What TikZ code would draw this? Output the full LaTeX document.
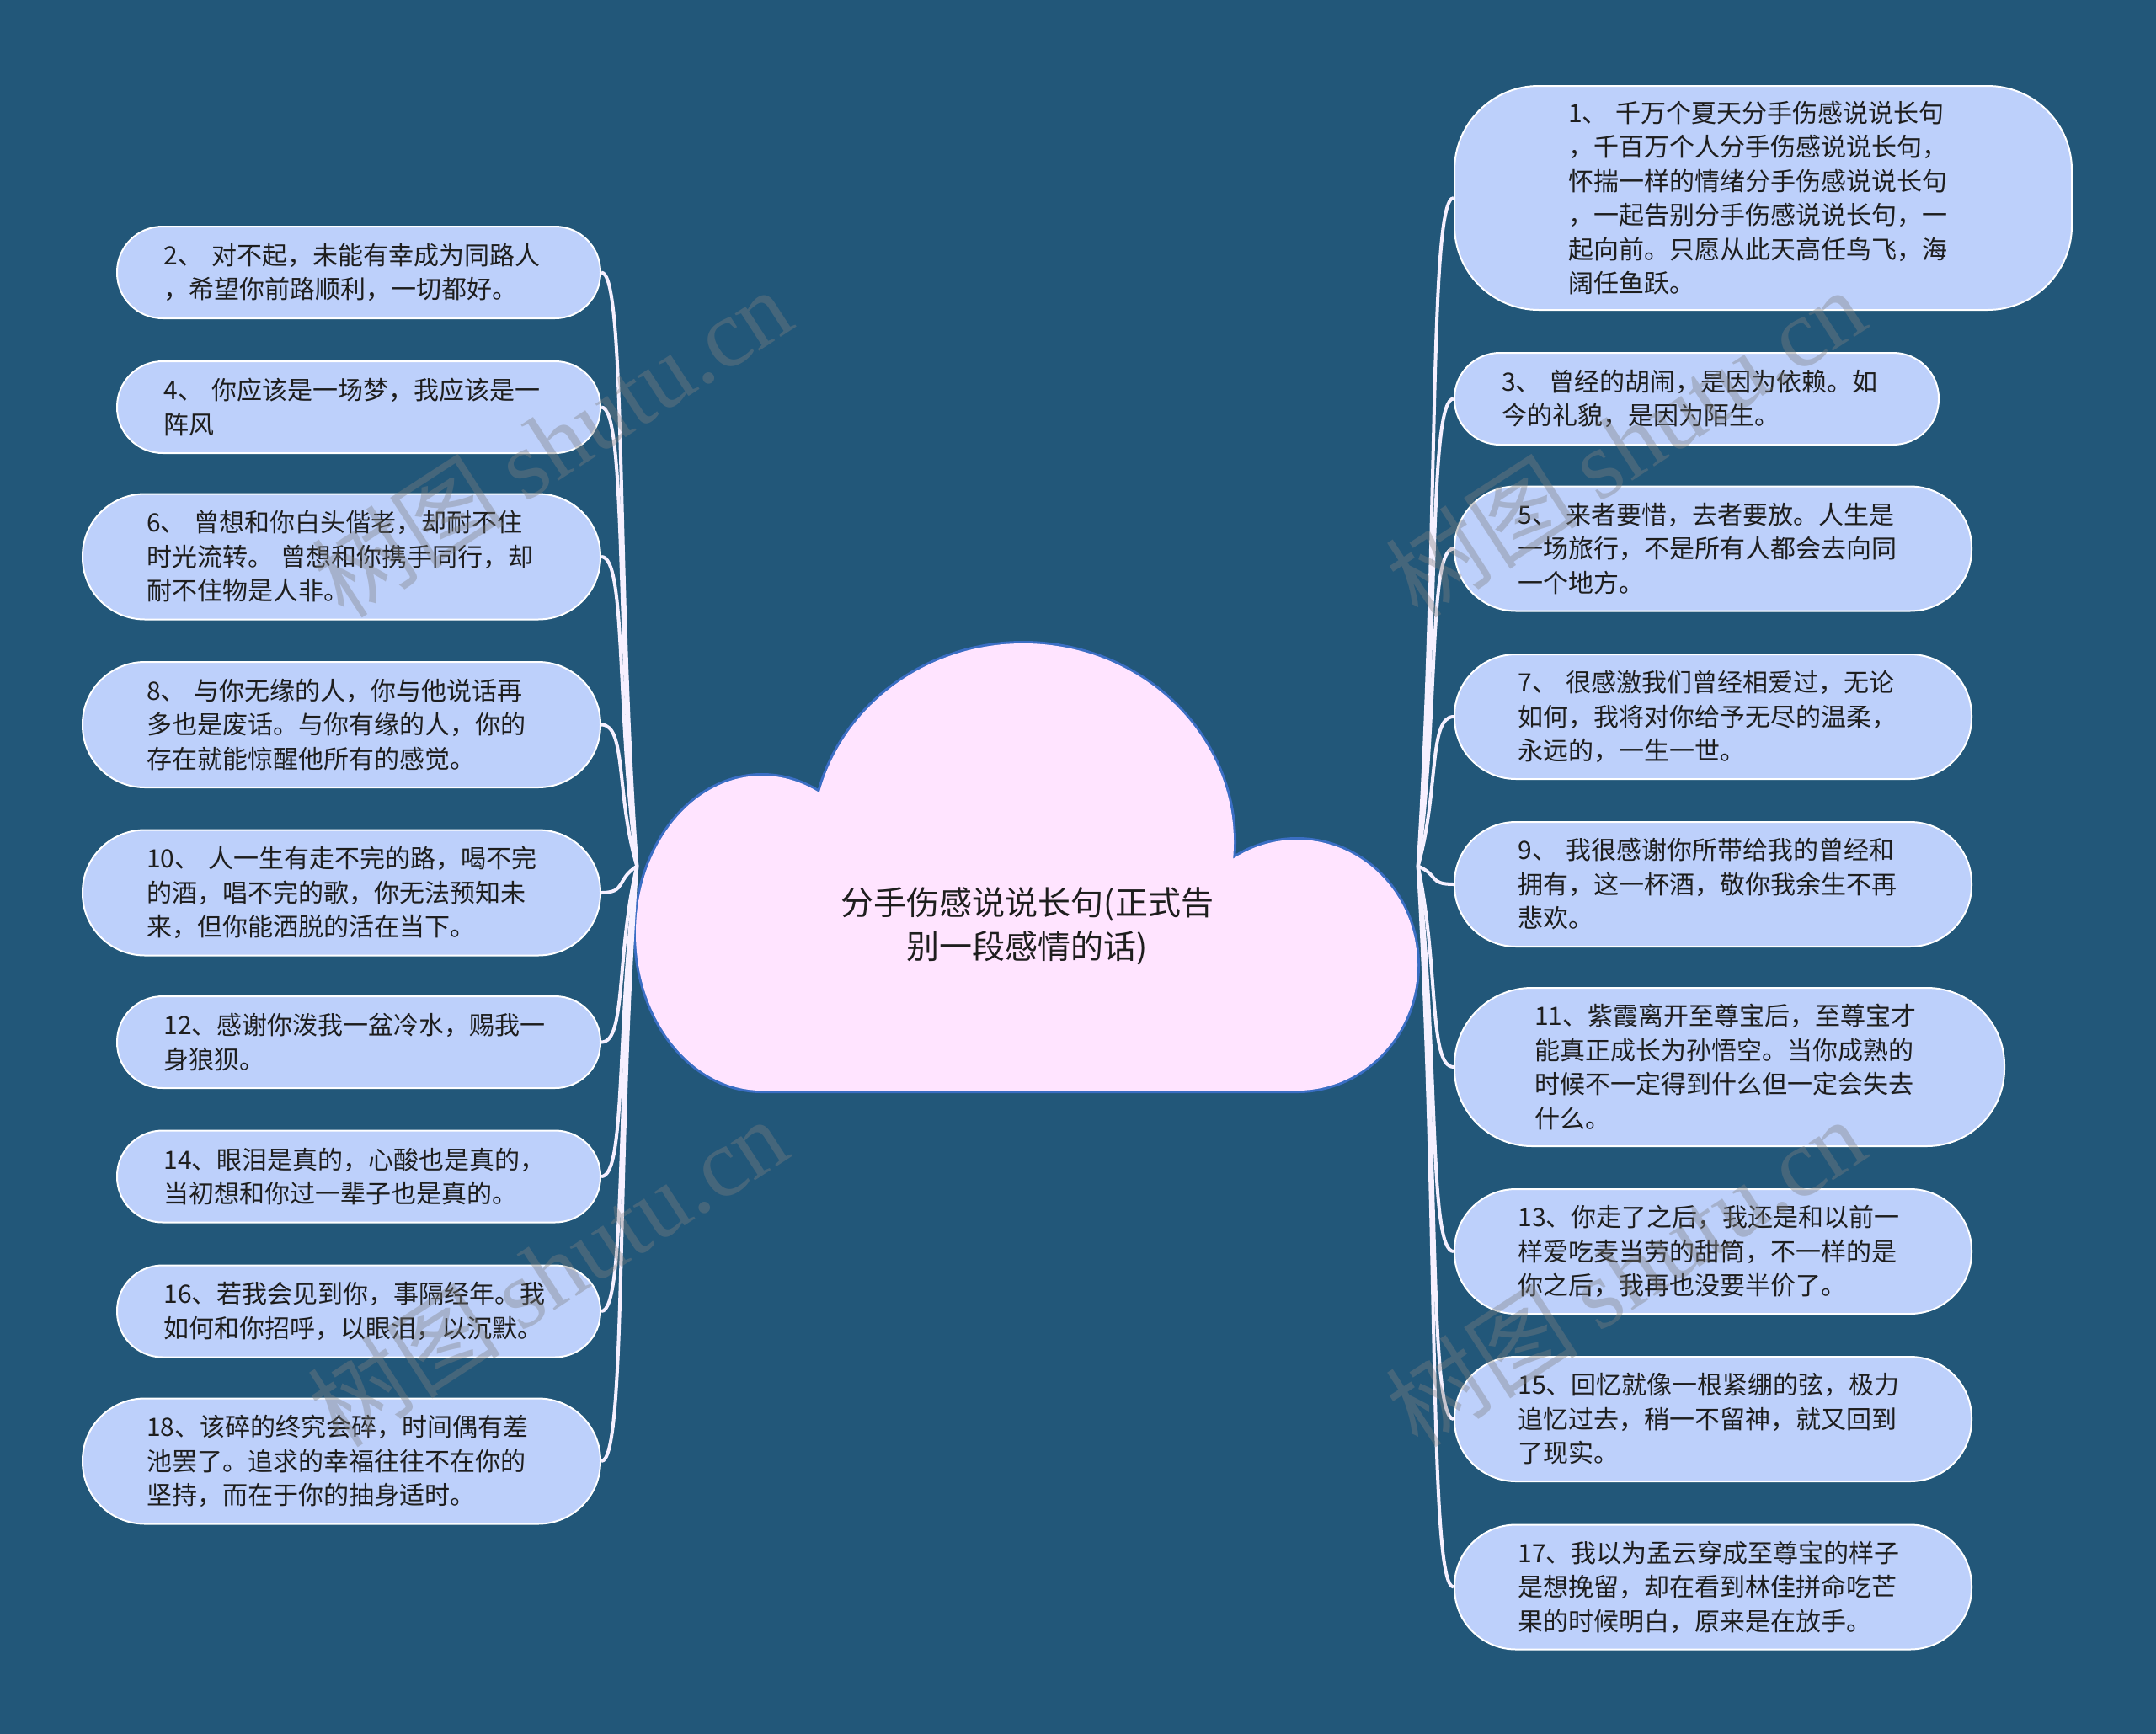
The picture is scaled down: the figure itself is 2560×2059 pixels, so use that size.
\documentclass[tikz,border=0pt]{standalone}
\usepackage{fontspec}
\setmainfont{Noto Sans CJK SC}
\newfontfamily\wmlatin{Liberation Serif}
\newfontfamily\wmcjk{Noto Sans CJK SC}
\usetikzlibrary{calc}
\definecolor{bgblue}{RGB}{34,87,121}
\definecolor{leaf}{RGB}{189,208,251}
\definecolor{cloudfill}{RGB}{255,228,255}
\definecolor{cloudline}{RGB}{58,110,196}
\definecolor{connwhite}{RGB}{246,240,255}
\definecolor{ink}{RGB}{30,30,30}
\newcommand\leftlink[1]{\draw[connline] let \p1=(root.west), \p2=(#1.east) in (\p1) .. controls (\x1-25pt,{0.5*\y1+0.5*\y2}) and (\x2+30pt,\y2) .. (\p2);}
\newcommand\rightlink[1]{\draw[connline] let \p1=(root.east), \p2=(#1.west) in (\p1) .. controls (\x1+25pt,{0.5*\y1+0.5*\y2}) and (\x2-30pt,\y2) .. (\p2);}
\begin{document}
\begin{tikzpicture}[x=1pt,y=-1pt,
  leafbox/.style={draw=white, line width=2pt, fill=leaf, text=ink,
    font=\fontsize{30}{40.5}\selectfont, text width=463pt, align=left, inner sep=0pt},
  small/.style={leafbox, minimum width=574pt, minimum height=109pt, rounded corners=54pt},
  mid/.style={leafbox, minimum width=615pt, minimum height=149pt, rounded corners=74pt},
  rmid/.style={leafbox, minimum width=614pt, minimum height=148pt, rounded corners=73pt},
  connline/.style={draw=connwhite, line width=4pt},
  wm/.style={text=gray, opacity=0.38, font=\fontsize{115}{115}\selectfont, rotate=33}]
\fill[bgblue] (0,0) rectangle (2560,2059);
\useasboundingbox (0,0) rectangle (2560,2059);
% cloud
\filldraw[draw=cloudline, fill=cloudfill, line width=6pt]
  (1215,1000) ellipse [x radius=250pt, y radius=236pt]
  (905,1108) ellipse [x radius=150pt, y radius=187pt]
  (1540,1146) ellipse [x radius=143pt, y radius=149pt]
  (905,1050) rectangle (1540,1295);
\fill[cloudfill]
  (1215,1000) ellipse [x radius=250pt, y radius=236pt]
  (905,1108) ellipse [x radius=150pt, y radius=187pt]
  (1540,1146) ellipse [x radius=143pt, y radius=149pt]
  (905,1050) rectangle (1540,1295);
\node[minimum width=927pt, minimum height=529pt, inner sep=0pt] (root) at (1220,1028.5) {};
\node[text=ink, font=\fontsize{39}{52}\selectfont, align=center] (title) at (1220,1100) {分手伤感说说长句(正式告\\别一段感情的话)};
% left nodes
\node[small] (n2) at (426,323.5) {2、~对不起，未能有幸成为同路人\\，希望你前路顺利，一切都好。};
\node[small] (n4) at (426,483.5) {4、~你应该是一场梦，我应该是一\\阵风};
\node[mid] (n6) at (405.5,661) {6、~曾想和你白头偕老，却耐不住\\时光流转。~曾想和你携手同行，却\\耐不住物是人非。};
\node[mid] (n8) at (405.5,860.5) {8、~与你无缘的人，你与他说话再\\多也是废话。与你有缘的人，你的\\存在就能惊醒他所有的感觉。};
\node[mid] (n10) at (405.5,1060) {10、~人一生有走不完的路，喝不完\\的酒，唱不完的歌，你无法预知未\\来，但你能洒脱的活在当下。};
\node[small] (n12) at (426,1237.5) {12、感谢你泼我一盆冷水，赐我一\\身狼狈。};
\node[small] (n14) at (426,1397) {14、眼泪是真的，心酸也是真的，\\当初想和你过一辈子也是真的。};
\node[small] (n16) at (426,1557) {16、若我会见到你，事隔经年。我\\如何和你招呼，以眼泪，以沉默。};
\node[mid] (n18) at (405.5,1735) {18、该碎的终究会碎，时间偶有差\\池罢了。追求的幸福往往不在你的\\坚持，而在于你的抽身适时。};
% right nodes
\node[leafbox, minimum width=733pt, minimum height=266pt, rounded corners=100pt] (n1) at (2093.5,235) {1、~千万个夏天分手伤感说说长句\\，千百万个人分手伤感说说长句，\\怀揣一样的情绪分手伤感说说长句\\，一起告别分手伤感说说长句，一\\起向前。只愿从此天高任鸟飞，海\\阔任鱼跃。};
\node[leafbox, minimum width=575pt, minimum height=109pt, rounded corners=54pt] (n3) at (2014.5,473.5) {3、~曾经的胡闹，是因为依赖。如\\今的礼貌，是因为陌生。};
\node[rmid] (n5) at (2034,651.5) {5、~来者要惜，去者要放。人生是\\一场旅行，不是所有人都会去向同\\一个地方。};
\node[rmid] (n7) at (2034,851) {7、~很感激我们曾经相爱过，无论\\如何，我将对你给予无尽的温柔，\\永远的，一生一世。};
\node[rmid] (n9) at (2034,1050) {9、~我很感谢你所带给我的曾经和\\拥有，这一杯酒，敬你我余生不再\\悲欢。};
\node[leafbox, minimum width=653pt, minimum height=188pt, rounded corners=92pt] (n11) at (2053.5,1267) {11、紫霞离开至尊宝后，至尊宝才\\能真正成长为孙悟空。当你成熟的\\时候不一定得到什么但一定会失去\\什么。};
\node[rmid] (n13) at (2034,1486) {13、你走了之后，我还是和以前一\\样爱吃麦当劳的甜筒，不一样的是\\你之后，我再也没要半价了。};
\node[rmid] (n15) at (2034,1685) {15、回忆就像一根紧绷的弦，极力\\追忆过去，稍一不留神，就又回到\\了现实。};
\node[rmid] (n17) at (2034,1884.5) {17、我以为孟云穿成至尊宝的样子\\是想挽留，却在看到林佳拼命吃芒\\果的时候明白，原来是在放手。};
% connectors
\foreach \nd in {n2,n4,n6,n8,n10,n12,n14,n16,n18} {\leftlink{\nd}}
\foreach \nd in {n1,n3,n5,n7,n9,n11,n13,n15,n17} {\rightlink{\nd}}
% watermarks
\node[wm] (wm1) at (655,525) {{\wmcjk 树图} {\wmlatin shutu.cn}};
\node[wm] (wm2) at (1930,525) {{\wmcjk 树图} {\wmlatin shutu.cn}};
\node[wm] (wm3) at (650,1510) {{\wmcjk 树图} {\wmlatin shutu.cn}};
\node[wm] (wm4) at (1930,1510) {{\wmcjk 树图} {\wmlatin shutu.cn}};
\end{tikzpicture}
\end{document}
